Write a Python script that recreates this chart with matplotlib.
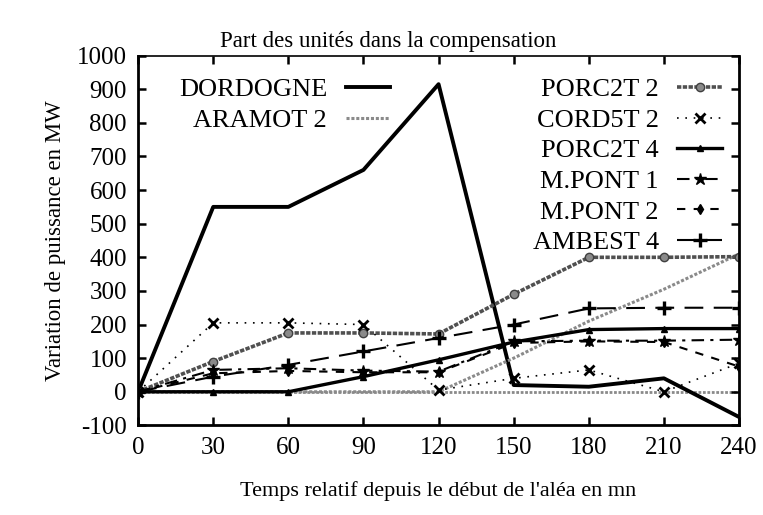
import matplotlib
matplotlib.use('Agg')
import matplotlib.pyplot as plt

plt.rcParams['font.family'] = ['Liberation Serif', 'DejaVu Serif']
plt.rcParams['axes.unicode_minus'] = False

# temps relatif (mn) et variations de puissance (MW) par unité
temps     = [0, 30, 60, 90, 120, 150, 180, 210, 240]
dordogne  = [0, 550, 550, 660, 915, 20, 15, 40, -75]
aramot2   = [0, 0, 0, 0, 0, 100, 210, 305, 410]
porc2t2   = [0, 90, 175, 175, 172, 290, 400, 400, 402]
cord5t2   = [0, 205, 205, 200, 5, 40, 65, 0, 85]
porc2t4   = [0, 0, 0, 45, 95, 148, 185, 188, 188]
mpont1    = [0, 65, 70, 63, 60, 150, 152, 152, 155]
mpont2    = [0, 55, 62, 58, 58, 145, 150, 148, 75]
ambest4   = [0, 45, 80, 120, 160, 200, 248, 250, 250]

xticks = [0, 30, 60, 90, 120, 150, 180, 210, 240]
yticks = list(range(-100, 1001, 100))

fig = plt.figure(figsize=(7.63, 5.15), dpi=100)
ax = fig.add_axes([0.181, 0.174, 0.7876, 0.718])

GRAY = '#8a8a8a'

# courbes de gauche
h_dord, = ax.plot(temps, dordogne, color='black', lw=2.8, label='DORDOGNE')
h_ara, = ax.plot(temps, aramot2, color=GRAY, lw=2.2, ls=(0, (1, 0.6)),
                 label='ARAMOT 2')
ax.axhline(0, color=GRAY, lw=2.0, ls=(0, (1, 0.6)), zorder=1)

# courbes de droite
h_p22, = ax.plot(temps, porc2t2, color='#505050', lw=2.6, ls=(0, (1.2, 0.4)),
                 marker='o', ms=6, mfc=GRAY, mec='#404040', label='PORC2T 2')
h_c52, = ax.plot(temps, cord5t2, color='black', lw=1.2, ls=(0, (1, 4)),
                 marker='x', ms=7, mew=2, label='CORD5T 2')
h_p24, = ax.plot(temps, porc2t4, color='black', lw=2.4,
                 marker='^', ms=5, label='PORC2T 4')
h_m1, = ax.plot(temps, mpont1, color='black', lw=1.5, ls=(0, (6, 3, 1.5, 3)),
                marker='*', ms=9, label='M.PONT 1')
h_m2, = ax.plot(temps, mpont2, color='black', lw=1.5, ls=(0, (4, 4)),
                marker='d', ms=5, label='M.PONT 2')
h_amb, = ax.plot(temps, ambest4, color='black', lw=1.5, ls=(0, (9, 5)),
                 marker='+', ms=10, mew=2.4, label='AMBEST 4')

ax.set_xlim(0, 240)
ax.set_ylim(-100, 1000)
ax.set_xticks(xticks)
ax.set_yticks(yticks)
ax.tick_params(direction='in', length=6, width=1.8, labelsize=18,
               top=True, right=True, pad=8)
for side in ['left', 'bottom', 'right']:
    ax.spines[side].set_linewidth(2.0)
ax.spines['top'].set_linewidth(1.2)

ax.set_title('Part des unités dans la compensation', fontsize=16.5, pad=6,
             x=0.416)
ax.set_xlabel("Temps relatif depuis le début de l'aléa en mn", fontsize=16,
              labelpad=16)
ax.set_ylabel('Variation de puissance en MW', fontsize=16.5, labelpad=8)

leg_kw = dict(frameon=False, markerfirst=False, numpoints=1, fontsize=19,
              handlelength=1.7, handletextpad=0.7, labelspacing=0.27,
              borderaxespad=0, borderpad=0, loc='upper right')
leg1 = ax.legend(handles=[h_dord, h_ara], bbox_to_anchor=(0.42, 0.94), **leg_kw)
ax.add_artist(leg1)
ax.legend(handles=[h_p22, h_c52, h_p24, h_m1, h_m2, h_amb],
          bbox_to_anchor=(0.972, 0.94), **leg_kw)

fig.savefig('out.png', dpi=100)
